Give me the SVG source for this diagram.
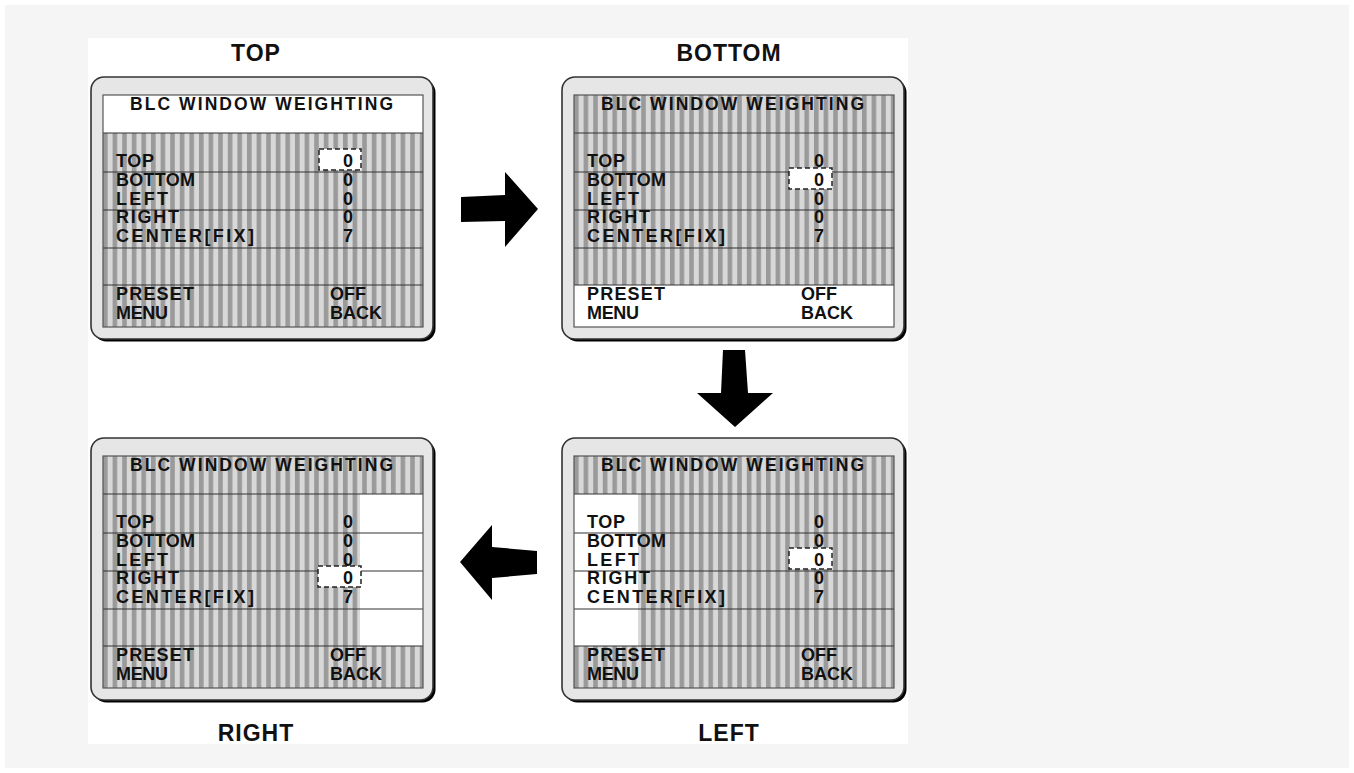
<svg xmlns="http://www.w3.org/2000/svg" xmlns:xlink="http://www.w3.org/1999/xlink" width="1354" height="773" viewBox="0 0 1354 773">
  <style>
    .osd { font-family: "Liberation Sans", Arial, sans-serif; font-weight: bold; font-size: 18px; fill: #111; }
    .ttl { font-family: "Liberation Sans", Arial, sans-serif; font-weight: bold; font-size: 17.5px; fill: #111; }
    .cap { font-family: "Liberation Sans", Arial, sans-serif; font-weight: bold; font-size: 23px; letter-spacing: 1px; fill: #111; text-anchor: middle; }
    .rule { stroke: #333; stroke-width: 1; }
    .cursor { fill: #fff; stroke: #222; stroke-width: 1.5; stroke-dasharray: 5 3; }
    .hi { fill: #fff; }
    .arrow { fill: #000; }
  </style>
  <defs>
    <pattern id="stripes" patternUnits="userSpaceOnUse" width="9.6" height="10" x="12" y="0">
      <rect width="9.6" height="10" fill="#d8d8d8"/>
      <rect x="0" width="4.6" height="10" fill="#9a9a9a"/>
    </pattern>
    <!-- monitor bezel -->
    <g id="bezel">
      <rect x="2.5" y="2.5" width="342" height="262" rx="13" fill="#000"/>
      <rect x="0" y="0" width="342" height="262" rx="13" fill="#e6e6e6" stroke="#333" stroke-width="1.6"/>
    </g>
    <!-- striped picture area -->
    <rect id="picture" x="12" y="18" width="320" height="232" fill="url(#stripes)"/>
    <!-- row rules and picture border -->
    <g id="rules">
      <line class="rule" x1="12" y1="56" x2="332" y2="56"/>
      <line class="rule" x1="12" y1="95" x2="332" y2="95"/>
      <line class="rule" x1="12" y1="133" x2="332" y2="133"/>
      <line class="rule" x1="12" y1="171" x2="332" y2="171"/>
      <line class="rule" x1="12" y1="208" x2="332" y2="208"/>
      <rect x="12" y="18" width="320" height="232" fill="none" stroke="#555" stroke-width="1.2"/>
    </g>
    <!-- menu text -->
    <g id="menu">
      <text class="ttl" x="39" y="33" textLength="263" lengthAdjust="spacing">BLC WINDOW WEIGHTING</text>
      <text class="osd" x="25" y="90" textLength="38" lengthAdjust="spacing">TOP</text>
      <text class="osd" x="25" y="109" textLength="79" lengthAdjust="spacing">BOTTOM</text>
      <text class="osd" x="25" y="127.5" textLength="52" lengthAdjust="spacing">LEFT</text>
      <text class="osd" x="25" y="146" textLength="63" lengthAdjust="spacing">RIGHT</text>
      <text class="osd" x="25" y="165" textLength="138" lengthAdjust="spacing">CENTER[FIX]</text>
      <text class="osd" x="252" y="90">0</text>
      <text class="osd" x="252" y="109">0</text>
      <text class="osd" x="252" y="127.5">0</text>
      <text class="osd" x="252" y="146">0</text>
      <text class="osd" x="252" y="165">7</text>
      <text class="osd" x="25" y="223" textLength="78" lengthAdjust="spacing">PRESET</text>
      <text class="osd" x="25" y="242" textLength="52" lengthAdjust="spacing">MENU</text>
      <text class="osd" x="239" y="223">OFF</text>
      <text class="osd" x="239" y="242">BACK</text>
    </g>
  </defs>

  <!-- page -->
  <rect x="0" y="0" width="1354" height="773" fill="#fff"/>
  <rect x="5" y="5" width="1344" height="763" fill="#f5f5f5"/>
  <rect x="88" y="38" width="820" height="706" fill="#fff"/>

  <!-- TOP selected -->
  <g id="screen-top" transform="translate(91,77)">
    <use xlink:href="#bezel"/>
    <use xlink:href="#picture"/>
    <rect class="hi" x="12" y="18" width="320" height="38"/>
    <use xlink:href="#rules"/>
    <rect class="cursor" x="228" y="72" width="42" height="21"/>
    <use xlink:href="#menu"/>
  </g>

  <!-- BOTTOM selected -->
  <g id="screen-bottom" transform="translate(562,77)">
    <use xlink:href="#bezel"/>
    <use xlink:href="#picture"/>
    <rect class="hi" x="12" y="208" width="320" height="42"/>
    <use xlink:href="#rules"/>
    <rect class="cursor" x="227" y="91" width="43" height="21"/>
    <use xlink:href="#menu"/>
  </g>

  <!-- RIGHT selected -->
  <g id="screen-right" transform="translate(91,438)">
    <use xlink:href="#bezel"/>
    <use xlink:href="#picture"/>
    <rect class="hi" x="269" y="56" width="63" height="152"/>
    <use xlink:href="#rules"/>
    <rect class="cursor" x="227" y="128" width="43" height="21"/>
    <use xlink:href="#menu"/>
  </g>

  <!-- LEFT selected -->
  <g id="screen-left" transform="translate(562,438)">
    <use xlink:href="#bezel"/>
    <use xlink:href="#picture"/>
    <rect class="hi" x="12" y="56" width="64" height="152"/>
    <use xlink:href="#rules"/>
    <rect class="cursor" x="227" y="110" width="43" height="21"/>
    <use xlink:href="#menu"/>
  </g>

  <!-- captions -->
  <g id="captions">
    <text class="cap" x="256" y="61">TOP</text>
    <text class="cap" x="729" y="61">BOTTOM</text>
    <text class="cap" x="256" y="741">RIGHT</text>
    <text class="cap" x="729" y="741">LEFT</text>
  </g>

  <!-- step arrows -->
  <g id="connectors">
    <polygon class="arrow" points="461,197 505,195 505,172 538,209 505,247 505,221 461,222"/>
    <polygon class="arrow" points="723,350 745,350 748,393 773,393 735,427 697,393 721,393"/>
    <polygon class="arrow" points="460,562 492,525 492,547 537,551 537,574 492,578 492,600"/>
  </g>
</svg>
